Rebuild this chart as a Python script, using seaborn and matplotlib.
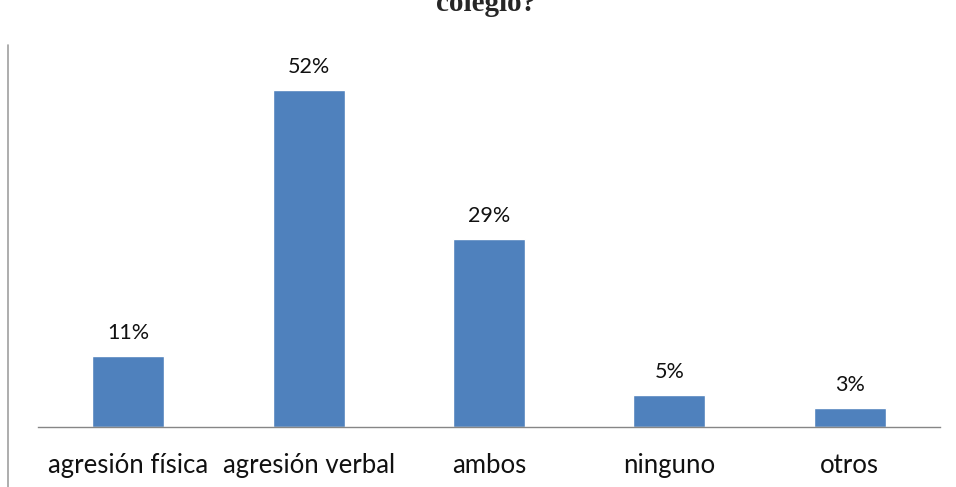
import matplotlib
matplotlib.use('Agg')

import pandas as pd
import matplotlib.pyplot as plt
import seaborn as sns
from matplotlib.lines import Line2D

categories = ['agresión física', 'agresión verbal', 'ambos', 'ninguno', 'otros']
values = [11, 52, 29, 5, 3]
labels = ['11%', '52%', '29%', '5%', '3%']

df = pd.DataFrame({'cat': categories, 'val': values})

sns.set_style('white')
plt.rcParams['font.family'] = ['Lato', 'DejaVu Sans']

fig = plt.figure(figsize=(9.56, 4.87), dpi=100)
ax = fig.add_axes([38 / 956, 60 / 487, 902 / 956, 389 / 487])

sns.barplot(data=df, x='cat', y='val', color='#4F81BD', saturation=1,
            width=0.4, ax=ax)

ax.set_ylim(0, 60)
ax.set_xlim(-0.5, 4.5)
for i, v in enumerate(values):
    ax.text(i, v + 2.0, labels[i], ha='center', va='bottom', fontsize=15.5,
            color='#111111')

ax.set_xlabel('')
ax.set_ylabel('')
ax.set_yticks([])
ax.tick_params(axis='x', length=0, pad=19, labelsize=18.5, labelcolor='#111111')
for s in ['top', 'right', 'left']:
    ax.spines[s].set_visible(False)
ax.spines['bottom'].set_color('#868686')
ax.spines['bottom'].set_linewidth(1)

# cut-off title at the top, as in the source
fig.text(486 / 956, 1 - 11 / 487, 'colegio?', ha='center', va='baseline',
         fontsize=21, fontweight='bold', family='Liberation Serif')

# thin gray line at the left edge
fig.add_artist(Line2D([8 / 956, 8 / 956], [0, 1 - 45 / 487],
                      transform=fig.transFigure, color='#a0a0a0', lw=1.2))

fig.savefig('out.png', dpi=100)
